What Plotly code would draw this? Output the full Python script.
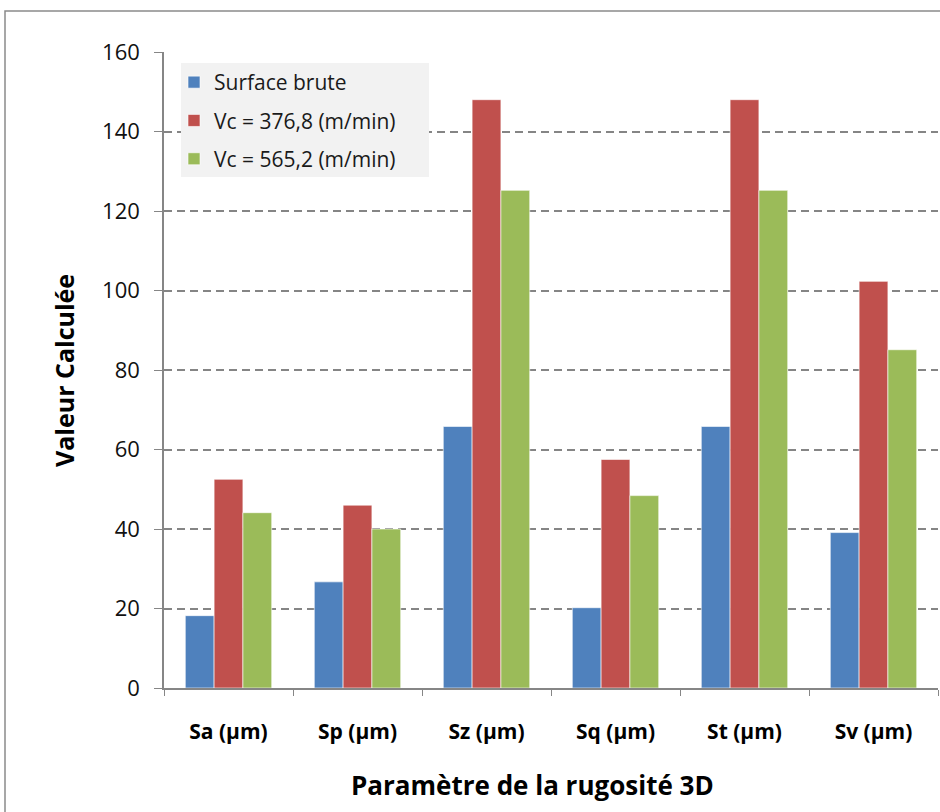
import plotly.graph_objects as go

categories = ["Sa (µm)", "Sp (µm)", "Sz (µm)", "Sq (µm)", "St (µm)", "Sv (µm)"]
surface_brute = [18.2, 26.7, 65.8, 20.2, 65.8, 39.1]
vc_376 = [52.5, 46.0, 148.0, 57.5, 148.0, 102.3]
vc_565 = [44.1, 40.0, 125.2, 48.4, 125.2, 85.1]
y_ticks = [0, 20, 40, 60, 80, 100, 120, 140, 160]

FONT = "Open Sans"
series = [
    ("Surface brute", surface_brute, "#4F81BD"),
    ("Vc = 376,8 (m/min)", vc_376, "#C0504D"),
    ("Vc = 565,2 (m/min)", vc_565, "#9BBB59"),
]

# plot-area geometry in pixels
L, R, T, B = 164, 938, 52, 688
W, H = R - L, B - T


def px(x):
    return (x - L) / W


def py(y):
    return (B - y) / H


fig = go.Figure()
for i, (name, vals, col) in enumerate(series):
    fig.add_trace(go.Bar(
        name=name, x=categories, y=vals, legendgroup=f"g{i}",
        marker=dict(color=col, line=dict(color="rgba(255,255,255,0.6)", width=1)),
    ))

fig.update_layout(
    width=940, height=812,
    margin=dict(l=L, r=940 - R, t=T, b=812 - B),
    paper_bgcolor="white", plot_bgcolor="white",
    barmode="group", bargap=0.33, bargroupgap=0,
    font=dict(family=FONT, color="#000000"),
    showlegend=True,
    legend=dict(
        x=px(174), y=py(62), xanchor="left", yanchor="top",
        bgcolor="rgba(0,0,0,0)", font=dict(size=21, family=FONT, color="#1a1a1a"),
        itemwidth=30, tracegroupgap=8,
    ),
    xaxis=dict(
        showline=True, linecolor="#868686", linewidth=1.5,
        ticks="outside", ticklen=6, tickcolor="#868686",
        tickson="boundaries",
        tickfont=dict(size=21, family=FONT, weight="bold", color="#000000"),
        ticklabelstandoff=24,
        showgrid=False,
    ),
    yaxis=dict(
        range=[0, 160], tickvals=y_ticks,
        showline=True, linecolor="#868686", linewidth=1.5,
        ticks="outside", ticklen=8, tickcolor="#868686",
        tickfont=dict(size=22, family=FONT, color="#111111"),
        ticklabelstandoff=10,
        showgrid=True, gridcolor="#858585", griddash="8px,5px", gridwidth=1.6,
        zeroline=False,
    ),
    annotations=[
        dict(text="<b>Paramètre de la rugosité 3D</b>", xref="paper", yref="paper",
             x=px(532), y=py(785), xanchor="center", yanchor="middle",
             showarrow=False, font=dict(size=26, family=FONT)),
        dict(text="<b>Valeur Calculée</b>", xref="paper", yref="paper",
             x=px(64), y=py(371), xanchor="center", yanchor="middle", textangle=-90,
             showarrow=False, font=dict(size=25, family=FONT)),
    ],
)

# legend panel
fig.add_shape(type="rect", xref="paper", yref="paper",
              x0=px(181), x1=px(429), y0=py(177), y1=py(63),
              fillcolor="#F2F2F2", line=dict(width=0), layer="above")

# outer chart frame
fig.add_shape(type="rect", xref="paper", yref="paper",
              x0=px(5), x1=px(950), y0=py(830), y1=py(11),
              line=dict(color="#8A8A8A", width=1.5), layer="below")

fig.write_html("out.html")
